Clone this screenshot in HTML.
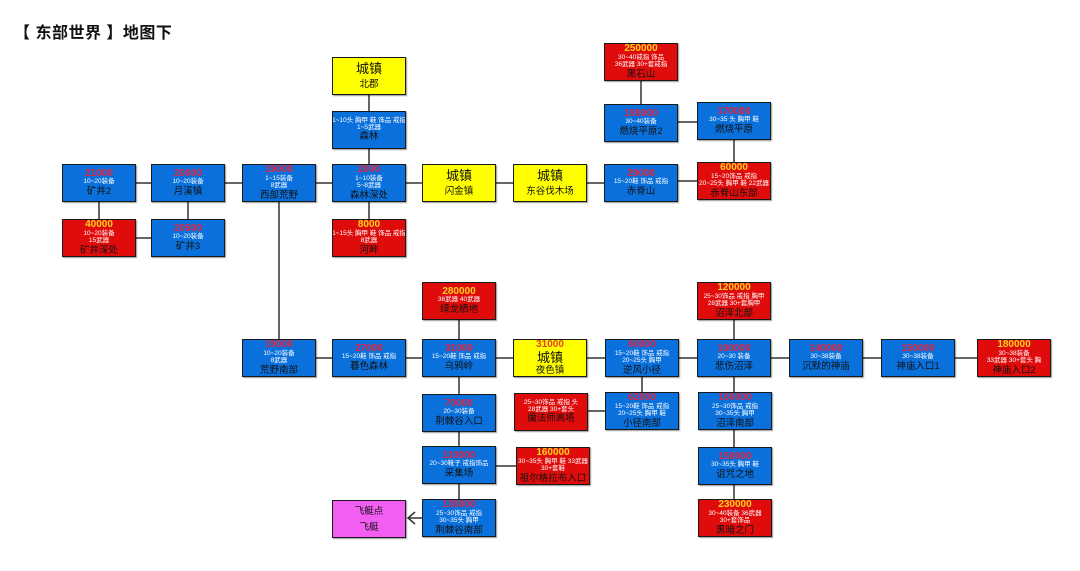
<!DOCTYPE html>
<html><head><meta charset="utf-8"><style>
body{margin:0;width:1080px;height:571px;background:#fff;position:relative;overflow:hidden;font-family:"Liberation Sans","Noto Sans CJK SC",sans-serif}
.t{position:absolute;left:14px;top:19px;font-size:16px;font-weight:bold;color:#111;letter-spacing:0.5px}
.b{position:absolute;width:72px;height:36px;border:1px solid #1a1a1a;box-shadow:1px 1px 1px rgba(0,0,0,.4);display:flex;flex-direction:column;align-items:center;justify-content:center;text-align:center;line-height:1.05;overflow:hidden}
.bl{background:#0a70dc}.rd{background:#e00c0c}.yl{background:#ffff00}.mg{background:#f25df2}
.n{font-size:10px;font-weight:bold;color:#e8243c}
.rd .n{color:#ffd21a}.yl .n{color:#e84020}
.d{font-size:6.5px;color:#fff;white-space:nowrap}
.m{font-size:9.5px;color:#111;margin-top:1px}
.c{font-size:13px;color:#111;margin-bottom:3px}
svg{position:absolute;left:0;top:0}
</style></head><body>
<div class="t">【 东部世界 】地图下</div>
<svg width="1080" height="571"><g stroke="#333" stroke-width="1.5" fill="none">
<line x1="99" y1="183" x2="279" y2="183"/><line x1="99" y1="183" x2="99" y2="238"/><line x1="99" y1="238" x2="188" y2="238"/><line x1="188" y1="183" x2="188" y2="238"/>
<line x1="279" y1="183" x2="640" y2="183"/><line x1="279" y1="183" x2="279" y2="358"/>
<line x1="369" y1="76" x2="369" y2="238"/>
<line x1="640" y1="181" x2="734" y2="181"/><line x1="734" y1="121" x2="734" y2="181"/><line x1="641" y1="122" x2="734" y2="122"/><line x1="641" y1="62" x2="641" y2="122"/>
<line x1="279" y1="358" x2="1013" y2="358"/>
<line x1="459" y1="300" x2="459" y2="518"/><line x1="459" y1="466" x2="552" y2="466"/>
<line x1="551" y1="411" x2="642" y2="411"/><line x1="642" y1="358" x2="642" y2="411"/>
<line x1="734" y1="300" x2="734" y2="518"/>
<line x1="422" y1="518" x2="408" y2="518"/><polyline points="415,512 408,518 415,524"/>
</g></svg>

<div class="b yl" style="left:332px;top:57px"><div class="c">城镇</div><div class="m">北郡</div></div>
<div class="b bl" style="left:332px;top:111px"><div class="d">1~10头 胸甲 鞋 饰品 戒指</div><div class="d">1~5武器</div><div class="m">森林</div></div>
<div class="b bl" style="left:62px;top:164px"><div class="n">21000</div><div class="d">10~20装备</div><div class="m">矿井2</div></div>
<div class="b bl" style="left:151px;top:164px"><div class="n">20000</div><div class="d">10~20装备</div><div class="m">月溪镇</div></div>
<div class="b bl" style="left:242px;top:164px"><div class="n">19000</div><div class="d">1~15装备</div><div class="d">8武器</div><div class="m">西部荒野</div></div>
<div class="b bl" style="left:332px;top:164px"><div class="n">2000</div><div class="d">1~10装备</div><div class="d">5~8武器</div><div class="m">森林深处</div></div>
<div class="b yl" style="left:422px;top:164px"><div class="c">城镇</div><div class="m">闪金镇</div></div>
<div class="b yl" style="left:513px;top:164px"><div class="c">城镇</div><div class="m">东谷伐木场</div></div>
<div class="b bl" style="left:604px;top:164px"><div class="n">29000</div><div class="d">15~20鞋 饰品 戒指</div><div class="m">赤脊山</div></div>
<div class="b rd" style="left:697px;top:162px"><div class="n">60000</div><div class="d">15~20饰品 戒指</div><div class="d">20~25头 胸甲 鞋 22武器</div><div class="m">赤脊山东部</div></div>
<div class="b bl" style="left:697px;top:102px"><div class="n">170000</div><div class="d">30~35 头 胸甲 鞋</div><div class="m">燃烧平原</div></div>
<div class="b bl" style="left:604px;top:104px"><div class="n">190000</div><div class="d">30~40装备</div><div class="m">燃烧平原2</div></div>
<div class="b rd" style="left:604px;top:43px"><div class="n">250000</div><div class="d">30~40戒指 饰品</div><div class="d">36武器 30+套戒指</div><div class="m">黑石山</div></div>
<div class="b rd" style="left:62px;top:219px"><div class="n">40000</div><div class="d">10~20装备</div><div class="d">15武器</div><div class="m">矿井深处</div></div>
<div class="b bl" style="left:151px;top:219px"><div class="n">20500</div><div class="d">10~20装备</div><div class="m">矿井3</div></div>
<div class="b rd" style="left:332px;top:219px"><div class="n">8000</div><div class="d">1~15头 胸甲 鞋 饰品 戒指</div><div class="d">8武器</div><div class="m">河畔</div></div>

<div class="b bl" style="left:242px;top:339px"><div class="n">19000</div><div class="d">10~20装备</div><div class="d">8武器</div><div class="m">荒野南部</div></div>
<div class="b bl" style="left:332px;top:339px"><div class="n">27000</div><div class="d">15~20鞋 饰品 戒指</div><div class="m">暮色森林</div></div>
<div class="b bl" style="left:422px;top:339px"><div class="n">31000</div><div class="d">15~20鞋 饰品 戒指</div><div class="m">乌鸦岭</div></div>
<div class="b yl" style="left:513px;top:339px"><div class="n">31000</div><div class="c" style="margin:0">城镇</div><div class="m">夜色镇</div></div>
<div class="b bl" style="left:605px;top:339px"><div class="n">60000</div><div class="d">15~20鞋 饰品 戒指</div><div class="d">20~25头 胸甲</div><div class="m">逆风小径</div></div>
<div class="b bl" style="left:697px;top:339px"><div class="n">100000</div><div class="d">20~30 装备</div><div class="m">悲伤沼泽</div></div>
<div class="b bl" style="left:789px;top:339px"><div class="n">140000</div><div class="d">30~38装备</div><div class="m">沉默的神庙</div></div>
<div class="b bl" style="left:881px;top:339px"><div class="n">150000</div><div class="d">30~38装备</div><div class="m">神庙入口1</div></div>
<div class="b rd" style="left:977px;top:339px"><div class="n">180000</div><div class="d">30~38装备</div><div class="d">33武器 30+套头 胸</div><div class="m">神庙入口2</div></div>
<div class="b rd" style="left:422px;top:282px"><div class="n">280000</div><div class="d">36武器 40武器</div><div class="m">绿龙栖地</div></div>
<div class="b rd" style="left:697px;top:282px"><div class="n">120000</div><div class="d">25~30饰品 戒指 胸甲</div><div class="d">28武器 30+套胸甲</div><div class="m">沼泽北部</div></div>
<div class="b bl" style="left:422px;top:394px"><div class="n">70000</div><div class="d">20~30装备</div><div class="m">荆棘谷入口</div></div>
<div class="b rd" style="left:514px;top:393px"><div class="d">25~30饰品 戒指 头</div><div class="d">28武器 30+套头</div><div class="m">魔法师高塔</div></div>
<div class="b bl" style="left:605px;top:392px"><div class="n">62000</div><div class="d">15~20鞋 饰品 戒指</div><div class="d">20~25头 胸甲 鞋</div><div class="m">小径南部</div></div>
<div class="b bl" style="left:698px;top:392px"><div class="n">160000</div><div class="d">25~30饰品 戒指</div><div class="d">30~35头 胸甲</div><div class="m">沼泽南部</div></div>
<div class="b bl" style="left:422px;top:446px"><div class="n">110000</div><div class="d">20~30靴子 戒指饰品</div><div class="m">采集场</div></div>
<div class="b rd" style="left:516px;top:447px"><div class="n">160000</div><div class="d">30~35头 胸甲 鞋 33武器</div><div class="d">30+套鞋</div><div class="m">祖尔格拉布入口</div></div>
<div class="b bl" style="left:422px;top:499px"><div class="n">130000</div><div class="d">25~30饰品 戒指</div><div class="d">30~35头 胸甲</div><div class="m">荆棘谷南部</div></div>
<div class="b mg" style="left:332px;top:500px"><div class="m" style="margin-bottom:5px">飞艇点</div><div class="m">飞艇</div></div>
<div class="b bl" style="left:698px;top:447px"><div class="n">150000</div><div class="d">30~35头 胸甲 鞋</div><div class="m">诅咒之地</div></div>
<div class="b rd" style="left:698px;top:499px"><div class="n">230000</div><div class="d">30~40装备 36武器</div><div class="d">30+套饰品</div><div class="m">黑暗之门</div></div>
</body></html>
